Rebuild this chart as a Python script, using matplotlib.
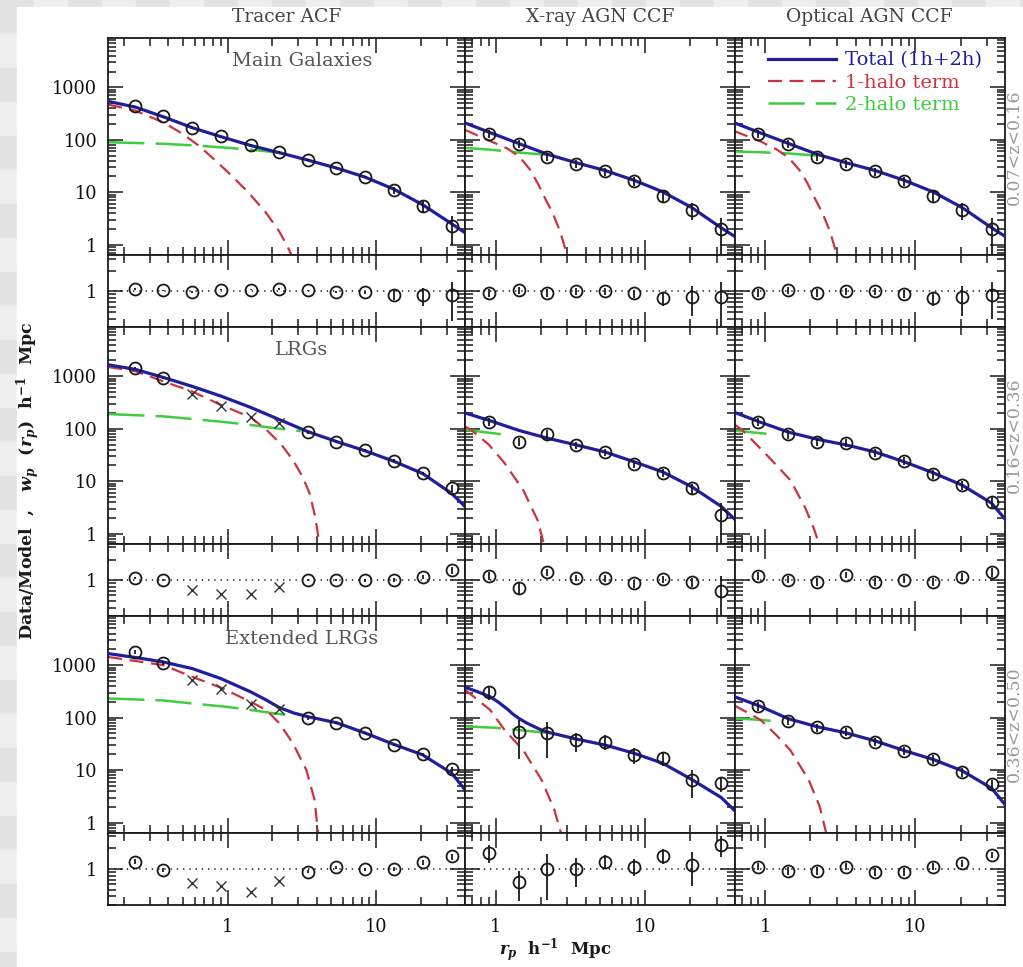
import matplotlib
matplotlib.use("Agg")
import matplotlib.pyplot as plt
import numpy as np
from matplotlib.lines import Line2D
from matplotlib.patches import Rectangle
from matplotlib.ticker import FixedLocator, FixedFormatter, LogLocator, NullFormatter

# projected separation bins, h^-1 Mpc
rp_tracer = [0.24, 0.37, 0.58, 0.90, 1.43, 2.22, 3.47, 5.4, 8.4, 13.1, 20.5, 32.2]
rp_agn = [0.90, 1.43, 2.22, 3.47, 5.4, 8.4, 13.1, 20.5, 32.2]

col_titles = ["Tracer ACF", "X-ray AGN CCF", "Optical AGN CCF"]
row_samples = ["Main Galaxies", "LRGs", "Extended LRGs"]
row_zbins = ["0.07<z<0.16", "0.16<z<0.36", "0.36<z<0.50"]

# --- 0.07<z<0.16 : Main Galaxies ACF
mg_wp = [434, 280, 168, 117, 79, 58, 41, 29, 19.7, 11, 5.4, 2.3]
mg_err = [12, 8, 5, 3.5, 2.5, 2, 1.5, 1.2, 1.0, 1.6, 1.4, 1.3]
mg_ratio = [1.08, 1.03, 0.97, 1.06, 1.06, 1.08, 1.03, 0.97, 0.97, 0.89, 0.87, 0.87]
mg_ratio_err = [0.03, 0.03, 0.03, 0.03, 0.03, 0.03, 0.03, 0.04, 0.05, 0.15, 0.25, 0.5]
mg_total_r = [0.158, 0.24, 0.37, 0.58, 0.9, 1.43, 2.22, 3.47, 5.4, 8.4, 13.1, 20.5, 32.2, 39.5]
mg_total = [540, 420, 275, 170, 115, 78, 57, 41, 29, 19.5, 11.5, 5.8, 2.5, 1.7]
mg_1h_r = [0.158, 0.24, 0.37, 0.5, 0.65, 0.85, 1.1, 1.4, 1.8, 2.2, 2.5, 2.8]
mg_1h = [470, 360, 215, 130, 75, 38, 19, 9.5, 4.2, 1.9, 1.0, 0.5]
mg_2h_r = [0.158, 0.37, 0.6, 0.9, 1.43, 2.22, 2.6]
mg_2h = [90, 84, 78, 72, 65, 57, 51]

# --- 0.07<z<0.16 : X-ray AGN CCF
xr1_wp = [129, 85, 47, 35, 25, 16.3, 8.4, 4.6, 1.96]
xr1_err = [22, 15, 8, 6, 4.5, 3, 1.8, 1.6, 1.3]
xr1_ratio = [0.95, 1.03, 0.95, 1.0, 1.0, 0.93, 0.8, 0.82, 0.84]
xr1_ratio_err = [0.12, 0.12, 0.12, 0.12, 0.12, 0.12, 0.18, 0.38, 0.55]
xr1_total_r = [0.625, 0.92, 1.43, 2.22, 3.47, 5.4, 8.4, 13.1, 20.5, 32.2, 39.5]
xr1_total = [210, 137, 85, 53, 36.5, 26, 17, 10.2, 5.1, 2.1, 1.45]
xr1_1h_r = [0.625, 0.92, 1.2, 1.44, 1.7, 1.91, 2.15, 2.4, 2.7, 2.9, 3.1]
xr1_1h = [155, 95, 68, 48, 27, 15, 7.5, 4.1, 1.8, 0.9, 0.5]
xr1_2h_r = [0.625, 0.92, 1.43, 2.22]
xr1_2h = [70, 65, 57, 52]

# --- 0.07<z<0.16 : optical AGN CCF
op1_wp = [129, 85, 48, 35, 25, 16.3, 8.4, 4.6, 1.96]
op1_err = [22, 15, 8, 6, 4.5, 3, 1.8, 1.6, 1.3]
op1_ratio = [0.95, 1.03, 0.95, 1.0, 1.0, 0.92, 0.8, 0.82, 0.89]
op1_ratio_err = [0.12, 0.12, 0.12, 0.12, 0.12, 0.12, 0.18, 0.38, 0.5]
op1_total_r = [0.625, 0.92, 1.43, 2.22, 3.47, 5.4, 8.4, 13.1, 20.5, 32.2, 39.5]
op1_total = [210, 137, 85, 53, 36.5, 26, 17, 10.2, 5.1, 2.1, 1.45]
op1_1h_r = [0.625, 0.92, 1.2, 1.44, 1.7, 1.91, 2.15, 2.4, 2.7, 2.9, 3.05]
op1_1h = [146, 95, 65, 45, 26, 15, 7.5, 4.1, 1.8, 0.9, 0.5]
op1_2h_r = [0.625, 0.92, 1.43, 2.22]
op1_2h = [60, 58, 55, 50]

# --- 0.16<z<0.36 : LRG ACF
lrg_wp = [1420, 916, 459, 275, 165, 127, 85, 56.5, 39, 24.5, 14.1, 7.3]
lrg_err = [60, 40, 20, 12, 8, 6, 4, 2.5, 2, 1.5, 1.2, 1.2]
lrg_ratio = [1.08, 1.0, 0.71, 0.64, 0.64, 0.8, 1.0, 1.0, 1.0, 1.0, 1.12, 1.4]
lrg_ratio_err = [0.04, 0.04, 0.03, 0.03, 0.03, 0.03, 0.04, 0.04, 0.05, 0.06, 0.08, 0.15]
lrg_cross = [2, 3, 4, 5]
lrg_total_r = [0.158, 0.24, 0.37, 0.58, 0.9, 1.43, 2.22, 3.47, 5.4, 8.4, 13.1, 20.5, 32.2, 39.5]
lrg_total = [1650, 1350, 950, 640, 420, 255, 150, 88, 57, 38, 24, 14, 5.8, 3.3]
lrg_1h_r = [0.158, 0.24, 0.37, 0.58, 0.9, 1.43, 1.83, 2.3, 2.76, 3.2, 3.57, 3.9, 4.2]
lrg_1h = [1500, 1250, 800, 510, 285, 165, 95, 50, 25, 12, 5.8, 2, 0.5]
lrg_2h_r = [0.158, 0.37, 0.68, 1.0, 1.43, 2.22, 3.1]
lrg_2h = [190, 172, 147, 132, 118, 100, 90]

# --- 0.16<z<0.36 : X-ray AGN CCF
xr2_wp = [136, 56.5, 79, 49, 36, 21, 14.5, 7.3, 2.25]
xr2_err = [25, 10, 14, 8, 5.5, 3.5, 2.5, 1.5, 1.65]
xr2_ratio = [1.16, 0.78, 1.32, 1.09, 1.06, 0.9, 1.03, 0.94, 0.7]
xr2_ratio_err = [0.15, 0.15, 0.15, 0.12, 0.12, 0.12, 0.12, 0.15, 0.45]
xr2_total_r = [0.625, 0.92, 1.43, 2.22, 3.47, 5.4, 8.4, 13.1, 20.5, 32.2, 39.5]
xr2_total = [200, 142, 93, 66, 49, 36, 23.5, 15, 7.8, 3.3, 1.9]
xr2_1h_r = [0.625, 0.69, 0.9, 1.15, 1.53, 1.91, 2.15]
xr2_1h = [110, 94, 50, 22, 6.8, 1.8, 0.5]
xr2_2h_r = [0.625, 0.9, 1.12]
xr2_2h = [95, 84, 78]

# --- 0.16<z<0.36 : optical AGN CCF
op2_wp = [136, 79, 56.5, 54, 35, 24.5, 13.7, 8.4, 4.0]
op2_err = [25, 14, 10, 9, 6, 4, 2.5, 1.6, 0.9]
op2_ratio = [1.15, 1.02, 0.94, 1.18, 0.94, 1.02, 0.94, 1.12, 1.32]
op2_ratio_err = [0.15, 0.12, 0.12, 0.12, 0.12, 0.12, 0.12, 0.15, 0.2]
op2_total_r = [0.625, 0.91, 1.43, 2.22, 3.47, 5.4, 8.4, 13.1, 20.5, 32.2, 39.5]
op2_total = [205, 136, 86, 63, 49, 36, 23.5, 14.5, 8.4, 3.8, 1.9]
op2_1h_r = [0.625, 0.705, 1.0, 1.47, 1.84, 2.1, 2.35]
op2_1h = [120, 94, 34, 10.5, 3.2, 1.3, 0.5]
op2_2h_r = [0.625, 0.8, 1.02]
op2_2h = [92, 86, 80]

# --- 0.36<z<0.50 : extended LRG ACF
elrg_wp = [1780, 1100, 516, 344, 181, 143, 97, 80, 51, 30, 20, 10.4]
elrg_err = [150, 80, 25, 15, 8, 6, 5, 4, 2.5, 1.8, 1.5, 1.3]
elrg_ratio = [1.29, 0.97, 0.62, 0.57, 0.47, 0.68, 0.92, 1.06, 1.0, 1.0, 1.25, 1.53]
elrg_ratio_err = [0.1, 0.06, 0.03, 0.03, 0.03, 0.03, 0.05, 0.05, 0.05, 0.06, 0.1, 0.15]
elrg_cross = [2, 3, 4, 5]
elrg_total_r = [0.158, 0.24, 0.37, 0.58, 0.9, 1.43, 1.83, 2.22, 2.8, 3.47, 5.4, 8.4, 13.1,
                20.5, 32.2, 39.5]
elrg_total = [1660, 1400, 1150, 860, 556, 310, 215, 156, 122, 104, 80, 51, 31, 19.5, 8.7, 4.2]
elrg_1h_r = [0.158, 0.37, 0.58, 0.9, 1.43, 1.83, 2.24, 2.76, 3.39, 3.85, 4.1]
elrg_1h = [1430, 1000, 597, 375, 200, 139, 77, 32, 10, 2.7, 0.5]
elrg_2h_r = [0.158, 0.37, 0.65, 1.0, 1.43, 2.0, 2.8]
elrg_2h = [232, 212, 180, 160, 140, 122, 108]

# --- 0.36<z<0.50 : X-ray AGN CCF
xr3_wp = [310, 54, 50, 37, 35, 19.4, 16.8, 6.5, 5.6]
xr3_err = [90, 38, 33, 15, 11, 6.5, 5, 3.5, 1.8]
xr3_ratio = [1.72, 0.64, 1.0, 1.0, 1.29, 1.09, 1.57, 1.16, 2.28]
xr3_ratio_err = [0.5, 0.3, 0.65, 0.45, 0.3, 0.3, 0.4, 0.6, 0.8]
xr3_total_r = [0.625, 0.75, 0.92, 1.05, 1.2, 1.3, 1.43, 1.6, 1.8, 2.0, 2.22, 3.47, 5.4, 8.4,
               13.1, 20.5, 32.2, 39.5]
xr3_total = [380, 315, 250, 195, 145, 118, 97, 80, 68, 59, 53, 39, 30, 21, 13.5, 6.6, 3.0, 1.7]
xr3_1h_r = [0.625, 0.92, 1.15, 1.53, 2.03, 2.47, 2.8]
xr3_1h = [340, 140, 58, 24, 6.5, 1.75, 0.5]
xr3_2h_r = [0.625, 1.0, 1.43, 2.27]
xr3_2h = [68, 64, 58, 51]

# --- 0.36<z<0.50 : optical AGN CCF
op3_wp = [165, 87, 65, 54, 35, 23.4, 16, 9.3, 5.4]
op3_err = [30, 15, 11, 9, 6, 4, 3, 1.8, 1.1]
op3_ratio = [1.09, 0.95, 0.95, 1.09, 0.92, 0.92, 1.09, 1.22, 1.62]
op3_ratio_err = [0.12, 0.12, 0.12, 0.12, 0.12, 0.12, 0.12, 0.15, 0.18]
op3_total_r = [0.625, 0.91, 1.43, 2.22, 3.47, 5.4, 8.4, 13.1, 20.5, 32.2, 39.5]
op3_total = [250, 168, 95, 67, 51, 36, 23.6, 16, 9.7, 4.5, 2.2]
op3_1h_r = [0.625, 0.935, 1.2, 1.47, 1.95, 2.31, 2.6]
op3_1h = [170, 90, 45, 24, 6.5, 2.0, 0.5]
op3_2h_r = [0.625, 0.8, 1.1, 1.3]
op3_2h = [96, 93, 87, 84]

panels = [
    (0, 0, rp_tracer, mg_wp, mg_err, mg_ratio, mg_ratio_err, [],
     (mg_total_r, mg_total), (mg_1h_r, mg_1h), (mg_2h_r, mg_2h)),
    (0, 1, rp_agn, xr1_wp, xr1_err, xr1_ratio, xr1_ratio_err, [],
     (xr1_total_r, xr1_total), (xr1_1h_r, xr1_1h), (xr1_2h_r, xr1_2h)),
    (0, 2, rp_agn, op1_wp, op1_err, op1_ratio, op1_ratio_err, [],
     (op1_total_r, op1_total), (op1_1h_r, op1_1h), (op1_2h_r, op1_2h)),
    (1, 0, rp_tracer, lrg_wp, lrg_err, lrg_ratio, lrg_ratio_err, lrg_cross,
     (lrg_total_r, lrg_total), (lrg_1h_r, lrg_1h), (lrg_2h_r, lrg_2h)),
    (1, 1, rp_agn, xr2_wp, xr2_err, xr2_ratio, xr2_ratio_err, [],
     (xr2_total_r, xr2_total), (xr2_1h_r, xr2_1h), (xr2_2h_r, xr2_2h)),
    (1, 2, rp_agn, op2_wp, op2_err, op2_ratio, op2_ratio_err, [],
     (op2_total_r, op2_total), (op2_1h_r, op2_1h), (op2_2h_r, op2_2h)),
    (2, 0, rp_tracer, elrg_wp, elrg_err, elrg_ratio, elrg_ratio_err, elrg_cross,
     (elrg_total_r, elrg_total), (elrg_1h_r, elrg_1h), (elrg_2h_r, elrg_2h)),
    (2, 1, rp_agn, xr3_wp, xr3_err, xr3_ratio, xr3_ratio_err, [],
     (xr3_total_r, xr3_total), (xr3_1h_r, xr3_1h), (xr3_2h_r, xr3_2h)),
    (2, 2, rp_agn, op3_wp, op3_err, op3_ratio, op3_ratio_err, [],
     (op3_total_r, op3_total), (op3_1h_r, op3_1h), (op3_2h_r, op3_2h)),
]

BLUE = "#1f1f9e"
RED = "#cc3340"
GREEN = "#3fcc3f"
INK = "#1a1a1a"

plt.rcParams["font.family"] = "DejaVu Serif"
plt.rcParams["mathtext.fontset"] = "custom"
plt.rcParams["mathtext.rm"] = "DejaVu Serif:bold"
plt.rcParams["mathtext.it"] = "DejaVu Serif:italic:bold"
plt.rcParams["mathtext.bf"] = "DejaVu Serif:bold"
plt.rcParams["lines.scale_dashes"] = False

W, H = 1023, 967
fig = plt.figure(figsize=(W / 100, H / 100), dpi=100)


def px_rect(x0, y0, x1, y1):
    return [x0 / W, 1 - y1 / H, (x1 - x0) / W, (y1 - y0) / H]


# checkered strip along the top and left edges
sq = 34
for i in range(W // sq + 1):
    for j in range(H // sq + 1):
        if i > 0 and j > 0:
            continue
        c = "#e2e2e2" if (i + j) % 2 == 0 else "#efefef"
        fig.patches.append(Rectangle((i * sq / W, 1 - (j + 1) * sq / H), sq / W, sq / H,
                                     transform=fig.transFigure, color=c, zorder=-10))
fig.patches.append(Rectangle((17 / W, 0), 1 - 17 / W, 1 - 7 / H, transform=fig.transFigure,
                             color="white", zorder=-9))

cols_px = [(108.3, 465.0), (465.0, 734.5), (734.5, 1005.0)]
row_top = [38.3, 327.2, 616.1]
top_h, rat_h = 217.0, 71.9
xlims = [(0.158, 39.5), (0.625, 39.5), (0.625, 39.5)]
wp_lim = (0.63, 8600)
ratio_lim = (0.3, 3.35)


def style(ax, xlim):
    ax.set_xscale("log")
    ax.set_yscale("log")
    ax.set_xlim(xlim)
    for s in ax.spines.values():
        s.set_linewidth(1.3)
        s.set_color(INK)
    ax.tick_params(which="both", direction="in", top=True, right=True, color=INK,
                   width=1.1, labelsize=12.8, labelcolor="#111")
    ax.tick_params(which="major", length=11)
    ax.tick_params(which="minor", length=6)
    ax.tick_params(axis="y", pad=8)
    ax.tick_params(axis="x", pad=9)
    ax.xaxis.set_major_locator(FixedLocator([1, 10]))
    ax.xaxis.set_minor_locator(LogLocator(base=10, subs=np.arange(2, 10), numticks=40))
    ax.xaxis.set_major_formatter(NullFormatter())
    ax.xaxis.set_minor_formatter(NullFormatter())
    ax.yaxis.set_minor_formatter(NullFormatter())


for row, col, rp, wp, err, ratio, ratio_err, cross, total, h1, h2 in panels:
    x0, x1 = cols_px[col]
    y0 = row_top[row]
    ax = fig.add_axes(px_rect(x0, y0, x1, y0 + top_h))
    axr = fig.add_axes(px_rect(x0, y0 + top_h, x1, y0 + top_h + rat_h))
    style(ax, xlims[col])
    style(axr, xlims[col])

    ax.set_ylim(wp_lim)
    ax.yaxis.set_major_locator(FixedLocator([1, 10, 100, 1000]))
    ax.yaxis.set_minor_locator(LogLocator(base=10, subs=np.arange(2, 10), numticks=40))
    axr.set_ylim(ratio_lim)
    axr.yaxis.set_major_locator(FixedLocator([1]))
    axr.yaxis.set_minor_locator(FixedLocator([0.3, 0.4, 0.5, 0.6, 0.7, 0.8, 0.9, 2, 3]))
    if col == 0:
        ax.yaxis.set_major_formatter(FixedFormatter(["1", "10", "100", "1000"]))
        axr.yaxis.set_major_formatter(FixedFormatter(["1"]))
    else:
        ax.yaxis.set_major_formatter(NullFormatter())
        axr.yaxis.set_major_formatter(NullFormatter())
    if row == 2:
        axr.xaxis.set_major_formatter(FixedFormatter(["1", "10"]))

    # model terms
    ax.plot(h2[0], h2[1], color=GREEN, lw=1.8, dashes=(26, 8), zorder=2)
    ax.plot(h1[0], h1[1], color=RED, lw=1.6, dashes=(10, 5.5), zorder=2.5)
    ax.plot(total[0], total[1], color=BLUE, lw=2.3, zorder=3,
            solid_joinstyle="round")

    rp = np.asarray(rp)
    wp = np.asarray(wp)
    err = np.asarray(err)
    ratio = np.asarray(ratio)
    ratio_err = np.asarray(ratio_err)
    used = np.array([i not in cross for i in range(len(rp))])

    ax.errorbar(rp[used], wp[used], yerr=err[used], fmt="none", ecolor=INK,
                elinewidth=1.3, capsize=0, zorder=4)
    ax.plot(rp[used], wp[used], "o", ms=8.6, mfc="none", mec=INK, mew=1.3, zorder=5)
    ax.plot(rp[~used], wp[~used], "x", ms=7, mec="#333", mew=1.0, zorder=5)

    axr.axhline(1, color=INK, lw=1.1, ls=(0, (1, 3.5)), zorder=1)
    axr.errorbar(rp[used], ratio[used], yerr=ratio_err[used], fmt="none", ecolor=INK,
                 elinewidth=1.3, capsize=0, zorder=4)
    axr.plot(rp[used], ratio[used], "o", ms=8.6, mfc="none", mec=INK, mew=1.3, zorder=5)
    axr.plot(rp[~used], ratio[~used], "x", ms=7, mec="#333", mew=1.0, zorder=5)

    if col == 0:
        ax.text(0.543, 1 - 23 / top_h, row_samples[row], transform=ax.transAxes,
                ha="center", va="center", fontsize=14, color="#555")
    if col == 2:
        fig.text(1014 / W, 1 - (y0 + top_h / 2) / H, row_zbins[row], rotation=90,
                 ha="center", va="center", fontsize=12.5, color="#999")
    if row == 0:
        fig.text((x0 + x1) / 2 / W, 1 - 17 / H, col_titles[col], ha="center",
                 va="center", fontsize=13.5, color="#444")
    if row == 0 and col == 2:
        handles = [Line2D([], [], color=BLUE, lw=2.3),
                   Line2D([], [], color=RED, lw=1.6, dashes=(10, 5.5)),
                   Line2D([], [], color=GREEN, lw=1.8, dashes=(26, 8))]
        ax.legend(handles, ["Total (1h+2h)", "1-halo term", "2-halo term"],
                  loc="upper right", bbox_to_anchor=(0.915, 0.94), frameon=False,
                  fontsize=14, handlelength=3.5, handletextpad=0.45,
                  labelspacing=0.22, borderpad=0, borderaxespad=0,
                  labelcolor=[BLUE, RED, GREEN])

fig.text(28 / W, 1 - 481 / H,
         r"Data/Model  ,   $w_p$  $(r_p)$  h$^{-1}$  Mpc",
         rotation=90, ha="center", va="center", fontsize=12.5, fontweight="bold", color=INK)
fig.text(555 / W, 1 - 950 / H, r"$r_p$  h$^{-1}$  Mpc", ha="center", va="center",
         fontsize=12, fontweight="bold", color=INK)

fig.savefig("out.png", dpi=100)
